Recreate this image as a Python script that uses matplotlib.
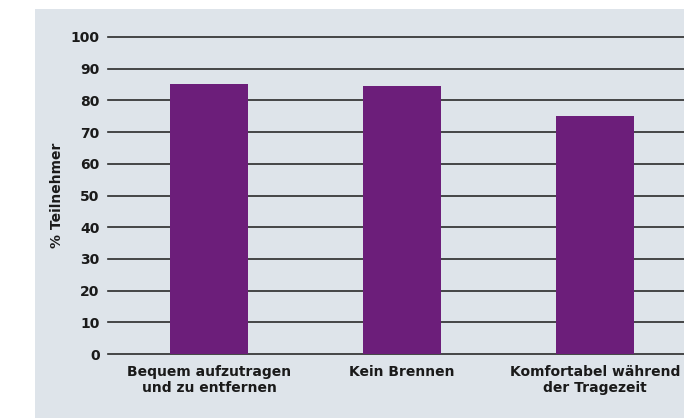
import matplotlib
matplotlib.use("Agg")
import matplotlib.pyplot as plt
from matplotlib.patches import Rectangle

categories = ["Bequem aufzutragen\nund zu entfernen", "Kein Brennen", "Komfortabel während\nder Tragezeit"]
values = [85.2, 84.5, 75.1]
yticks = [0, 10, 20, 30, 40, 50, 60, 70, 80, 90, 100]
ylabel = "% Teilnehmer"

bg = "#dee4ea"
bar_color = "#6c1e7a"

plt.rcParams['font.family'] = ['DejaVu Sans']
fig = plt.figure(figsize=(6.84, 4.18), dpi=100, facecolor="white")
fig.patches.append(Rectangle((35/684, 0), 1 - 35/684, (418-9)/418, transform=fig.transFigure,
                             facecolor=bg, edgecolor="none", zorder=-10))

ax = fig.add_axes([108/684, 64/418, 1 - 108/684, (354-37)/418])
ax.set_zorder(5)
ax.set_facecolor("none")
x = list(range(len(categories)))
for yt in yticks:
    ax.axhline(yt, color="#2b2b2b", lw=1.2, zorder=1, clip_on=False)
ax.bar(x, values, width=0.404, color=bar_color, zorder=2)
ax.set_xlim(-0.523, 2.46)
ax.set_ylim(0, 100)
ax.set_yticks(yticks)
ax.set_yticklabels([str(v) for v in yticks], fontsize=10, fontweight="bold", color="#1a1a1a")
ax.set_xticks(x)
ax.set_xticklabels(categories, fontsize=10, fontweight="bold", color="#1a1a1a", linespacing=1.15)
ax.tick_params(axis="y", length=0, pad=6)
ax.tick_params(axis="x", length=0, pad=8)
for s in ax.spines.values():
    s.set_visible(False)
ax.set_ylabel(ylabel, fontsize=10, fontweight="bold", color="#1a1a1a", labelpad=5)

fig.savefig("out.png", dpi=100, facecolor="white")
